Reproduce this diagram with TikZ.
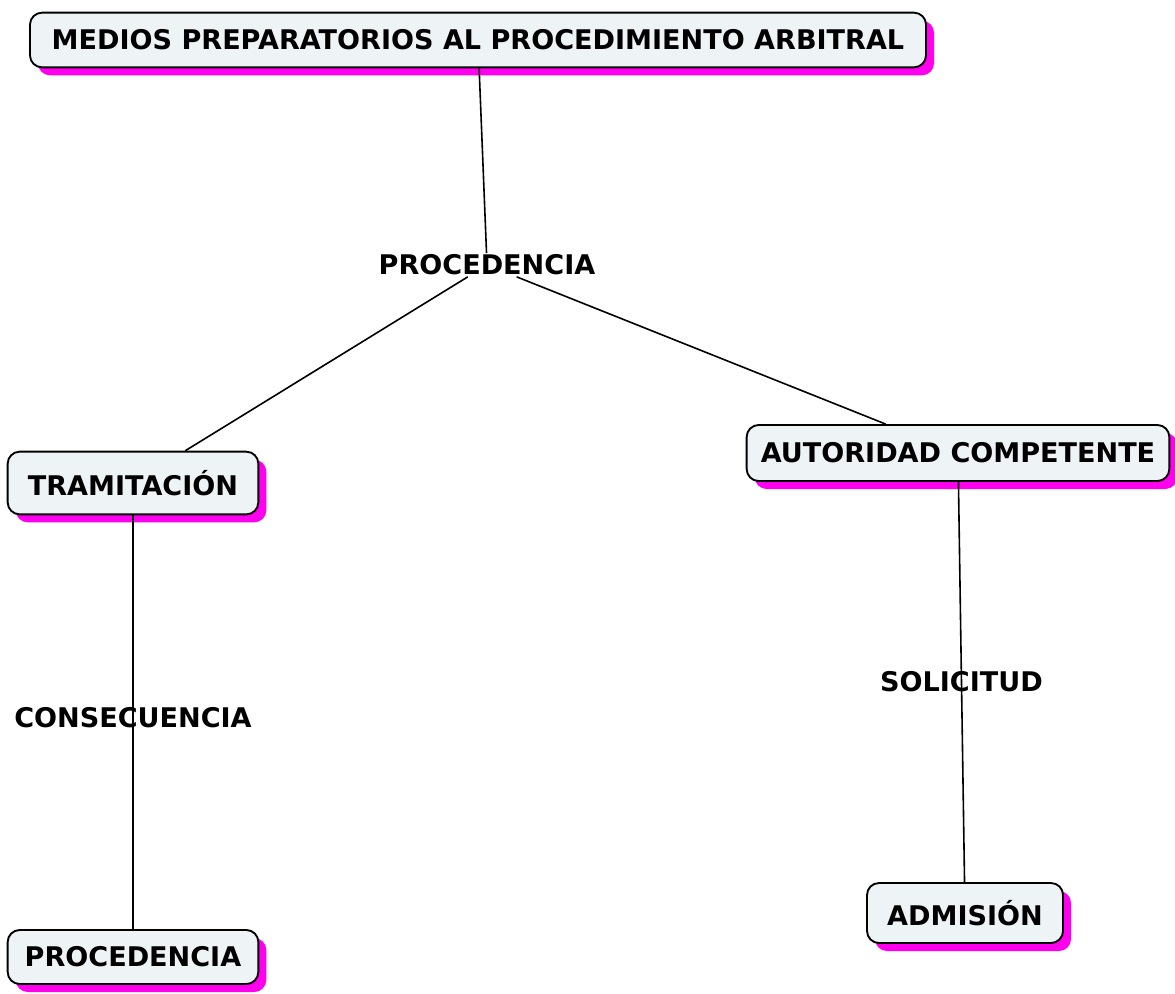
\documentclass[tikz,border=0pt]{standalone}
\usepackage{fontspec}
\setmainfont{DejaVu Sans}
\usetikzlibrary{shadows}

\definecolor{conceptfill}{HTML}{EEF3F6}
\definecolor{shadowpink}{HTML}{FF00EE}

\tikzset{
  concept/.style={draw=black, line width=1.4pt, fill=conceptfill,
    rounded corners=9pt, inner sep=0pt,
    font=\bfseries\fontsize{20.3}{24}\selectfont,
    drop shadow={shadow xshift=6pt, shadow yshift=-6pt,
      fill=shadowpink, opacity=1}},
  linking/.style={inner sep=1pt, font=\bfseries\fontsize{20.3}{24}\selectfont},
  conn/.style={line width=1.2pt}
}

\begin{document}
\begin{tikzpicture}[x=0.75pt, y=-0.75pt]
  \useasboundingbox (0,0) rectangle (1175,993);

  % Define nodes
  \node[concept, minimum width=672pt, minimum height=41pt] (medios) at (478,40)
    {MEDIOS PREPARATORIOS AL PROCEDIMIENTO ARBITRAL};
  \node[linking] (procede) at (487,265) {PROCEDENCIA};
  \node[concept, minimum width=188pt, minimum height=47pt] (tramit) at (133,483)
    {TRAMITACIÓN};
  \node[concept, minimum width=317pt, minimum height=42pt] (autoridad) at (958,453)
    {AUTORIDAD COMPETENTE};
  \node[concept, minimum width=188pt, minimum height=40.5pt] (procfin) at (133,957)
    {PROCEDENCIA};
  \node[concept, minimum width=147pt, minimum height=45pt] (admision) at (965,913)
    {ADMISIÓN};

  % Connect the nodes
  \draw[conn] (medios) -- (procede);
  \draw[conn] (procede) -- (tramit);
  \draw[conn] (procede) -- (autoridad);
  \draw[conn] (tramit) -- node[linking, pos=0.49] (consec) {CONSECUENCIA} (procfin);
  \draw[conn] (autoridad) -- node[linking, pos=0.5] (solic) {SOLICITUD} (admision);

\end{tikzpicture}
\end{document}
